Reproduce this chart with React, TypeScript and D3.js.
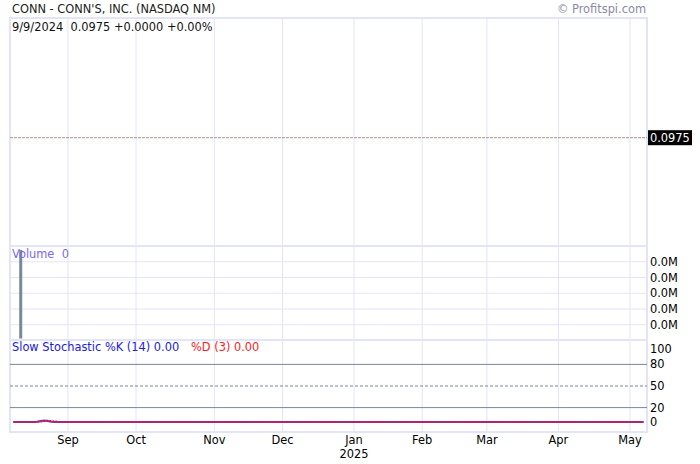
import React from "react";
import * as d3 from "d3";

// ---- data ----
const title = "CONN - CONN'S, INC. (NASDAQ NM)";
const infoText = "9/9/2024\u00a0\u00a00.0975 +0.0000 +0.00%";
const copyright = "© Profitspi.com";
const startDate = "2024-08-08";
const endDate = "2025-05-07";
const holidays = ["2024-09-02", "2024-11-28", "2024-12-25", "2025-01-01", "2025-01-09", "2025-01-20", "2025-02-17", "2025-04-18"];
const monthLabels = ["Sep", "Oct", "Nov", "Dec", "Jan", "Feb", "Mar", "Apr", "May"];
const monthStarts = ["2024-09-03", "2024-10-01", "2024-11-01", "2024-12-02", "2025-01-02", "2025-02-03", "2025-03-03", "2025-04-01", "2025-05-01"];
const yearLabel = "2025";
const price = 0.0975;
const priceLabel = "0.0975";
// volume: head values, then constant 0
const volumeHead = [0, 0, 0, 46000];
const volumeTicks = [8000, 16000, 24000, 32000, 40000];
// slow stochastic %K and %D: head values, then constant 0
const kHead = [NaN, 0, 0, 0, 0, 0, 0, 0, 0.5, 1.5, 2, 1.5, 0.5, 0, 0];
const dHead = [NaN, 0, 0, 0, 0, 0, 0, 0, 0.2, 0.7, 1.3, 1.7, 1.3, 0.7, 0.2, 0];
const stochTicks = [100, 80, 50, 20, 0];

// trading-day calendar
const fmt = d3.timeFormat("%Y-%m-%d");
const days: string[] = d3.timeDay
  .range(new Date(startDate + "T00:00:00"), d3.timeDay.offset(new Date(endDate + "T00:00:00"), 1))
  .filter((d) => d.getDay() !== 0 && d.getDay() !== 6)
  .map(fmt)
  .filter((s) => !holidays.includes(s));
const N = days.length;
const extend = (head: number[], tail: number) => days.map((_, i) => (i < head.length ? head[i] : tail));
const volume = extend(volumeHead, 0);
const kVals = extend(kHead, 0);
const dVals = extend(dHead, 0);

export default function App() {
  const W = 700, H = 464;
  const L = 10, R = 647;
  const pTop = 18, pBot = 246, vTop = 246, vBot = 340.5, sTop = 340, sBot = 432;
  const x = d3.scaleLinear().domain([0, N]).range([L, R]);
  const yP = d3.scaleLinear().domain([0.09655, 0.09855]).range([pBot, pTop]);
  const yV = d3.scaleLinear().domain([0, 48000]).range([vBot, vTop]);
  const yS = d3.scaleLinear().domain([0, 100]).range([422, 350]);
  const grid = "#e4e4f8";
  const font = "DejaVu Sans, Verdana, sans-serif";
  const monthX = monthStarts.map((m) => x(days.indexOf(m)));
  const line = d3
    .line<number>()
    .defined((v) => !isNaN(v))
    .x((_, i) => x(i))
    .y((v) => yS(v));

  return (
    <svg width={W} height={H} style={{ position: "absolute", left: 0, top: 0, background: "#fff" }} fontFamily={font} fontSize={11.4}>
      {/* vertical gridlines */}
      {monthX.map((mx, i) => (
        <line key={i} x1={mx} x2={mx} y1={pTop} y2={sBot} stroke={grid} strokeWidth={1} />
      ))}
      {/* volume horizontal grid */}
      {volumeTicks.map((t) => (
        <line key={t} x1={L} x2={R} y1={yV(t)} y2={yV(t)} stroke={grid} strokeWidth={1} />
      ))}
      {/* panel borders */}
      <rect x={L} y={pTop} width={R - L} height={sBot - pTop} fill="none" stroke={grid} strokeWidth={2} />
      <line x1={L} x2={R} y1={vTop} y2={vTop} stroke={grid} strokeWidth={2} />
      <line x1={L} x2={R} y1={sTop} y2={sTop} stroke={grid} strokeWidth={2} />

      {/* title */}
      <text x={12} y={13} fill="#222">{title}</text>
      <text x={646} y={13} fill="#8a8aa8" textAnchor="end">{copyright}</text>
      <text x={12} y={31} fill="#111">{infoText}</text>

      {/* price line */}
      <line x1={L} x2={R} y1={yP(price)} y2={yP(price)} stroke="#b09088" strokeWidth={1} strokeDasharray="3,1" />
      <rect x={648} y={yP(price) - 7.5} width={44} height={15} fill="#000" />
      <text x={650} y={yP(price) + 4} fill="#fff">{priceLabel}</text>

      {/* volume */}
      {volume.map((v, i) =>
        v > 0 ? <rect key={i} x={x(i) - 1} y={yV(v)} width={3} height={vBot - 2 - yV(v)} fill="#778899" /> : null
      )}
      <text x={12} y={258} fill="#7b68ee">Volume{"\u00a0\u00a0"}0</text>
      {volumeTicks.map((t) => (
        <text key={t} x={650} y={yV(t) + 4} fill="#000">{(t / 1e6).toFixed(1) + "M"}</text>
      ))}

      {/* stochastic */}
      <line x1={L} x2={R} y1={yS(80)} y2={yS(80)} stroke="#778899" strokeWidth={1} />
      <line x1={L} x2={R} y1={yS(20)} y2={yS(20)} stroke="#778899" strokeWidth={1} />
      <line x1={L} x2={R} y1={yS(50)} y2={yS(50)} stroke="#778899" strokeWidth={1} strokeDasharray="3,2" />
      <path d={line(kVals) || ""} fill="none" stroke="#4a4adf" strokeWidth={2} />
      <path d={line(dVals) || ""} fill="none" stroke="#e01040" strokeWidth={2} strokeDasharray="2,1" />
      <text x={12} y={351} fill="#2020e0">Slow Stochastic %K (14) 0.00</text>
      <text x={191} y={351} fill="#ff2020">%D (3) 0.00</text>
      {stochTicks.map((t) => (
        <text key={t} x={650} y={yS(t) + 4 + (t === 100 ? -1 : 0)} fill="#000">{t}</text>
      ))}

      {/* x axis labels */}
      {monthLabels.map((m, i) => (
        <text key={m} x={monthX[i]} y={444} textAnchor="middle" fill="#000">{m}</text>
      ))}
      <text x={monthX[4]} y={458} textAnchor="middle" fill="#000">{yearLabel}</text>
    </svg>
  );
}
